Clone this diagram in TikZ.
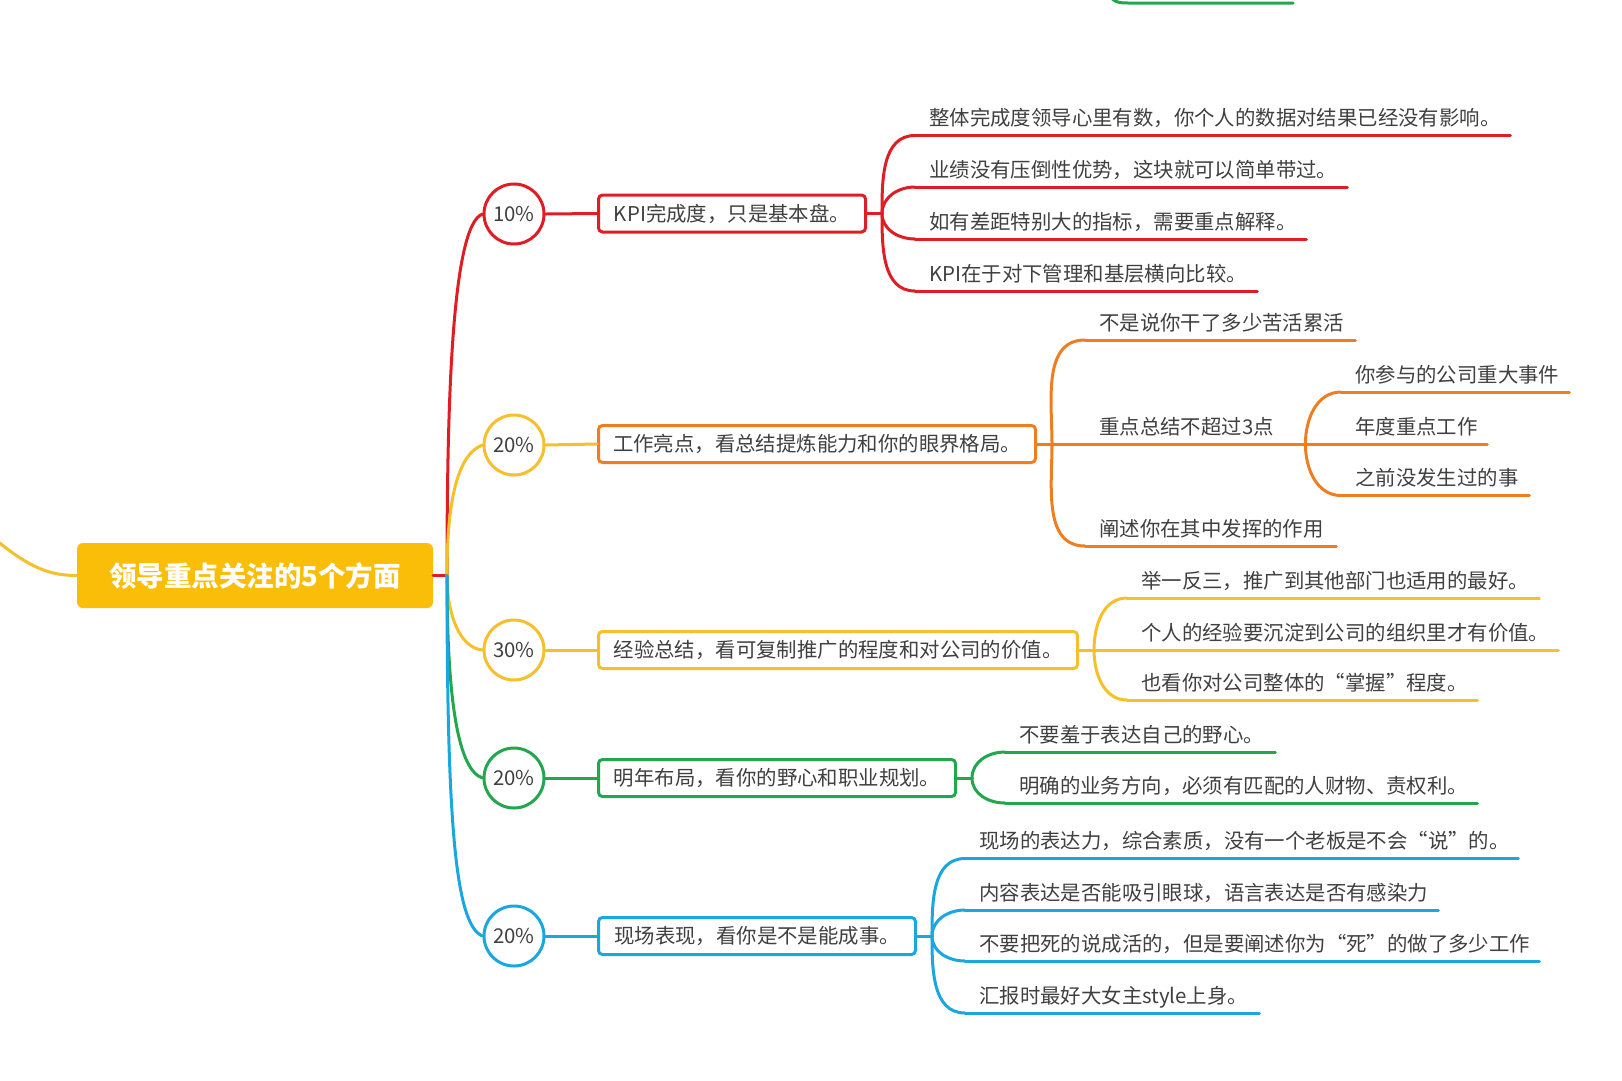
\documentclass[tikz,border=0pt]{standalone}
\usepackage{fontspec}
\setmainfont{Noto Sans CJK SC}
\definecolor{redc}{RGB}{222,30,36}
\definecolor{orac}{RGB}{238,126,34}
\definecolor{yelc}{RGB}{246,192,45}
\definecolor{grnc}{RGB}{34,166,78}
\definecolor{bluc}{RGB}{26,166,222}
\definecolor{rootc}{RGB}{250,189,8}
\definecolor{txt}{RGB}{64,64,64}
\newcommand\mmfs{\fontsize{20.4}{24}\selectfont}
\newcommand\mmleaf[6]{%
  \pgfmathsetmacro\mmlw{#5-#3-28}%
  \node[leaf, text width=\mmlw pt] (#1) at (#3,#4) {\mbox{#6}};
  \draw[ln,#2] (#1.south west) -- (#1.south east);}
\tikzset{
  ln/.style={line width=3pt, line cap=round},
  pct/.style={circle, draw=#1, line width=3pt, fill=white, minimum size=60pt, inner sep=0pt, font=\mmfs, text=txt},
  topic/.style={rectangle, rounded corners=4pt, draw=#1, line width=3pt, fill=white, minimum height=37pt, inner xsep=12pt, anchor=west, font=\mmfs, text=txt},
  leaf/.style={anchor=south west, inner xsep=14pt, inner ysep=4.4pt, text height=15pt, text depth=5pt, align=left, font=\mmfs, text=txt},
  rootbox/.style={rectangle, rounded corners=6pt, fill=rootc, minimum width=356pt, minimum height=65pt, text=white, font=\fontsize{27.5}{30}\selectfont\bfseries},
}
\begin{document}
\begin{tikzpicture}[x=1pt,y=-1pt]
\useasboundingbox (0,0) rectangle (1622,1080);
\fill[white] (0,0) rectangle (1622,1080);

% fragments at the edges
\coordinate (gtop0) at (1108,-8);
\coordinate (gtop1) at (1128,3);
\coordinate (gtop2) at (1293,3);
\draw[ln,grnc] (gtop0) .. controls (1112,2) and (1118,3) .. (gtop1) -- (gtop2);

% root
\node[rootbox] (root) at (255,575.5) {领导重点关注的5个方面};
\coordinate (lin) at (-4,540);
\draw[ln,yelc] (lin) .. controls (30,568) and (50,575.5) .. (root.west);
\coordinate (T) at (447,575.5);

% percentage circles
\node[pct=redc] (c1) at (514,214) {10\%};
\node[pct=yelc] (c2) at (514,445) {20\%};
\node[pct=yelc] (c3) at (514,650) {30\%};
\node[pct=grnc] (c4) at (514,778) {20\%};
\node[pct=bluc] (c5) at (514,936) {20\%};

% topic boxes
\node[topic=redc, minimum width=267pt] (b1) at (597,213.5) {KPI完成度，只是基本盘。};
\node[topic=orac, minimum width=437pt] (b2) at (597,444) {工作亮点，看总结提炼能力和你的眼界格局。};
\node[topic=yelc, minimum width=479pt] (b3) at (597,650) {经验总结，看可复制推广的程度和对公司的价值。};
\node[topic=grnc, minimum width=357pt] (b4) at (597,778) {明年布局，看你的野心和职业规划。};
\node[topic=bluc, minimum width=317pt] (b5) at (597,936) {现场表现，看你是不是能成事。};

% trunk
\draw[ln,redc] (root.east) -- (T);
\draw[ln,redc] (T) .. controls (447,400) and (452,225) .. (c1.west);
\draw[ln,yelc] (T) .. controls (447,510) and (455,455) .. (c2.west);
\draw[ln,yelc] (T) .. controls (447,615) and (460,648) .. (c3.west);
\draw[ln,grnc] (T) .. controls (447,700) and (458,770) .. (c4.west);
\draw[ln,bluc] (T) .. controls (447,820) and (455,925) .. (c5.west);

\draw[ln,redc] (c1.east) -- (b1.west);
\draw[ln,yelc] (c2.east) -- (b2.west);
\draw[ln,yelc] (c3.east) -- (b3.west);
\draw[ln,grnc] (c4.east) -- (b4.west);
\draw[ln,bluc] (c5.east) -- (b5.west);

% junctions
\coordinate (j1) at ([xshift=15pt]b1.east);
\coordinate (j2) at ([xshift=15pt]b2.east);
\coordinate (j3) at ([xshift=15pt]b3.east);
\coordinate (j4) at ([xshift=15pt]b4.east);
\coordinate (j5) at ([xshift=15pt]b5.east);
\draw[ln,redc] (b1.east) -- (j1);
\draw[ln,orac] (b2.east) -- (j2);
\draw[ln,yelc] (b3.east) -- (j3);
\draw[ln,grnc] (b4.east) -- (j4);
\draw[ln,bluc] (b5.east) -- (j5);

% red leaves
\mmleaf{r1}{redc}{915}{135.5}{1510}{整体完成度领导心里有数，你个人的数据对结果已经没有影响。}
\mmleaf{r2}{redc}{915}{187}{1347}{业绩没有压倒性优势，这块就可以简单带过。}
\mmleaf{r3}{redc}{915}{239}{1306}{如有差距特别大的指标，需要重点解释。}
\mmleaf{r4}{redc}{915}{291}{1257}{KPI在于对下管理和基层横向比较。}
\draw[ln,redc] (j1) to[out=90,in=180] (r1.south west);
\draw[ln,redc] (j1) to[out=90,in=180] (r2.south west);
\draw[ln,redc] (j1) to[out=-90,in=180] (r3.south west);
\draw[ln,redc] (j1) to[out=-90,in=180] (r4.south west);

% orange leaves
\mmleaf{o1}{orac}{1085}{340}{1355}{不是说你干了多少苦活累活}
\mmleaf{o2}{orac}{1085}{444}{1305}{重点总结不超过3点}
\mmleaf{o3}{orac}{1085}{546}{1336}{阐述你在其中发挥的作用}
\draw[ln,orac] (j2) to[out=90,in=180] (o1.south west);
\draw[ln,orac] (j2) -- (o2.south west);
\draw[ln,orac] (j2) to[out=-90,in=180] (o3.south west);
\coordinate (j2b) at (o2.south east);
\mmleaf{s1}{orac}{1341}{392}{1569}{你参与的公司重大事件}
\mmleaf{s2}{orac}{1341}{444}{1487}{年度重点工作}
\mmleaf{s3}{orac}{1341}{495.5}{1529}{之前没发生过的事}
\draw[ln,orac] (j2b) to[out=90,in=180] (s1.south west);
\draw[ln,orac] (j2b) -- (s2.south west);
\draw[ln,orac] (j2b) to[out=-90,in=180] (s3.south west);

% yellow leaves
\mmleaf{y1}{yelc}{1127}{598}{1539}{举一反三，推广到其他部门也适用的最好。}
\mmleaf{y2}{yelc}{1127}{650}{1558}{个人的经验要沉淀到公司的组织里才有价值。}
\mmleaf{y3}{yelc}{1127}{700}{1477}{也看你对公司整体的“掌握”程度。}
\draw[ln,yelc] (j3) to[out=90,in=180] (y1.south west);
\draw[ln,yelc] (j3) -- (y2.south west);
\draw[ln,yelc] (j3) to[out=-90,in=180] (y3.south west);

% green leaves
\mmleaf{g1}{grnc}{1005}{752}{1275}{不要羞于表达自己的野心。}
\mmleaf{g2}{grnc}{1005}{803}{1477}{明确的业务方向，必须有匹配的人财物、责权利。}
\draw[ln,grnc] (j4) to[out=90,in=180] (g1.south west);
\draw[ln,grnc] (j4) to[out=-90,in=180] (g2.south west);

% blue leaves
\mmleaf{u1}{bluc}{965}{858.5}{1518}{现场的表达力，综合素质，没有一个老板是不会“说”的。}
\mmleaf{u2}{bluc}{965}{910}{1438}{内容表达是否能吸引眼球，语言表达是否有感染力}
\mmleaf{u3}{bluc}{965}{961}{1539}{不要把死的说成活的，但是要阐述你为“死”的做了多少工作}
\mmleaf{u4}{bluc}{965}{1013}{1259}{汇报时最好大女主style上身。}
\draw[ln,bluc] (j5) to[out=90,in=180] (u1.south west);
\draw[ln,bluc] (j5) to[out=90,in=180] (u2.south west);
\draw[ln,bluc] (j5) to[out=-90,in=180] (u3.south west);
\draw[ln,bluc] (j5) to[out=-90,in=180] (u4.south west);
\end{tikzpicture}
\end{document}
